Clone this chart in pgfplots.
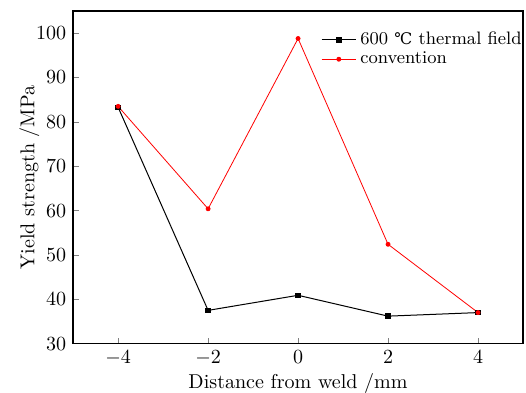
\documentclass[border=0pt]{standalone}
\usepackage{fontspec}
\usepackage{pgfplots}
\pgfplotsset{compat=1.18}
\newfontfamily\dejavu{DejaVu Serif}
\begin{document}
\begin{tikzpicture}
\begin{axis}[
  scale only axis,
  width=224.5pt, height=166pt,
  xmin=-5, xmax=5, ymin=30, ymax=105,
  xtick={-4,-2,0,2,4}, ytick={30,40,50,60,70,80,90,100},
  tick align=inside, xtick pos=bottom, ytick pos=left,
  major tick length=3pt,
  axis line style={line width=0.8pt},
  xlabel={Distance from weld /mm},
  ylabel={Yield strength /MPa},
  xlabel style={yshift=3pt},
  ylabel style={yshift=-8.5pt},
  legend style={at={(1.0,0.962)}, xshift=2.5pt, anchor=north east, draw=none, fill=none, font=\small, row sep=-2pt, inner xsep=1pt},
  legend cell align=left,
  legend image code/.code={\draw[#1] (0cm,0cm) -- (0.6cm,0cm); \draw[#1, only marks] plot coordinates {(0.3cm,0cm)};},
]
\addplot[black, line width=0.5pt, mark=square*, mark size=1.1pt] coordinates {
(-4,83.3) (-2,37.5) (0,40.9) (2,36.2) (4,37.0)};
\addlegendentry{600 {\dejavu\fontsize{8}{9}\selectfont ℃} thermal field}
\addplot[red, line width=0.4pt, mark=*, mark size=1.0pt] coordinates {
(-4,83.5) (-2,60.4) (0,98.8) (2,52.4) (4,37.0)};
\addlegendentry{convention}
\end{axis}
\pgfresetboundingbox
\path ([xshift=-36.5pt,yshift=-24.5pt]current axis.south west) rectangle ([xshift=1.5pt,yshift=5.5pt]current axis.north east);
\end{tikzpicture}
\end{document}
